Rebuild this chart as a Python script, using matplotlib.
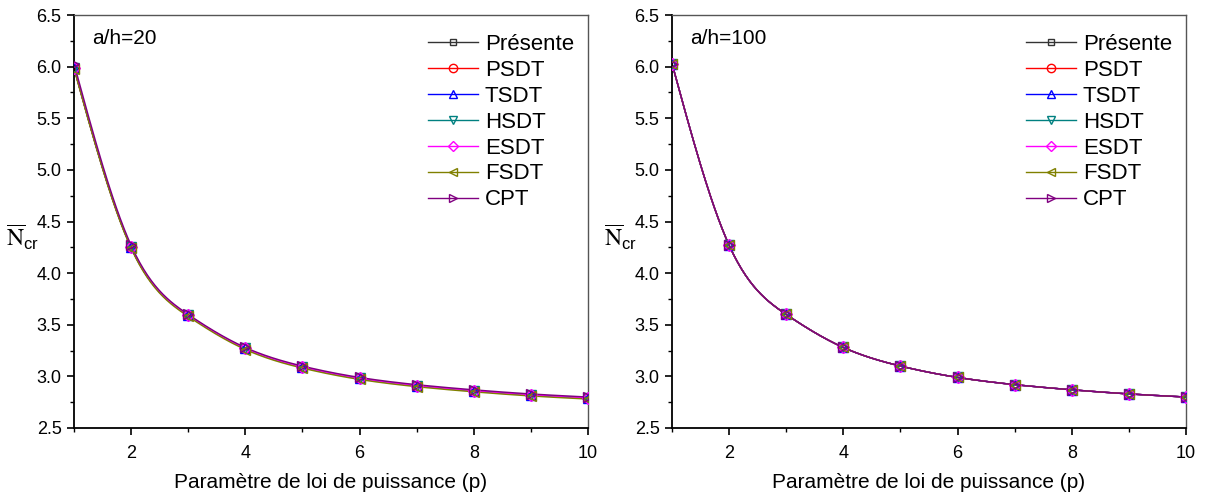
import numpy as np
import matplotlib
matplotlib.use("Agg")
import matplotlib.pyplot as plt
from matplotlib.ticker import MultipleLocator, FormatStrFormatter

plt.rcParams['font.family'] = ['Liberation Sans', 'DejaVu Sans']
plt.rcParams['mathtext.fontset'] = 'stix'

p = [1, 2, 3, 4, 5, 6, 7, 8, 9, 10]
series_names = ["Présente", "PSDT", "TSDT", "HSDT", "ESDT", "FSDT", "CPT"]
# a/h = 20
ah20 = {
    "Présente": [5.99, 4.25, 3.59, 3.27, 3.09, 2.98, 2.91, 2.86, 2.82, 2.79],
    "PSDT":     [5.99, 4.25, 3.59, 3.27, 3.09, 2.98, 2.91, 2.86, 2.82, 2.79],
    "TSDT":     [5.99, 4.25, 3.59, 3.27, 3.09, 2.98, 2.91, 2.86, 2.82, 2.79],
    "HSDT":     [5.99, 4.25, 3.59, 3.27, 3.09, 2.98, 2.91, 2.86, 2.82, 2.79],
    "ESDT":     [5.99, 4.25, 3.59, 3.27, 3.09, 2.98, 2.91, 2.86, 2.82, 2.79],
    "FSDT":     [5.98, 4.24, 3.58, 3.26, 3.08, 2.97, 2.90, 2.85, 2.81, 2.78],
    "CPT":      [6.03, 4.27, 3.60, 3.28, 3.10, 2.99, 2.92, 2.87, 2.83, 2.80],
}
# a/h = 100
ah100 = {
    "Présente": [6.03, 4.27, 3.60, 3.28, 3.10, 2.99, 2.92, 2.87, 2.83, 2.80],
    "PSDT":     [6.03, 4.27, 3.60, 3.28, 3.10, 2.99, 2.92, 2.87, 2.83, 2.80],
    "TSDT":     [6.03, 4.27, 3.60, 3.28, 3.10, 2.99, 2.92, 2.87, 2.83, 2.80],
    "HSDT":     [6.03, 4.27, 3.60, 3.28, 3.10, 2.99, 2.92, 2.87, 2.83, 2.80],
    "ESDT":     [6.03, 4.27, 3.60, 3.28, 3.10, 2.99, 2.92, 2.87, 2.83, 2.80],
    "FSDT":     [6.03, 4.27, 3.60, 3.28, 3.10, 2.99, 2.92, 2.87, 2.83, 2.80],
    "CPT":      [6.03, 4.27, 3.60, 3.28, 3.10, 2.99, 2.92, 2.87, 2.83, 2.80],
}
panel_labels = ["a/h=20", "a/h=100"]

colors = {"Présente": "#333333", "PSDT": "#ff0000", "TSDT": "#0000ff",
          "HSDT": "#008080", "ESDT": "#ff00ff", "FSDT": "#808000", "CPT": "#800080"}
markers = {"Présente": "s", "PSDT": "o", "TSDT": "^", "HSDT": "v",
           "ESDT": "D", "FSDT": "<", "CPT": ">"}
msize = {"Présente": 6, "PSDT": 7, "TSDT": 7, "HSDT": 7, "ESDT": 6, "FSDT": 7, "CPT": 7}


def natural_spline(x, y, n=400):
    x = np.asarray(x, float); y = np.asarray(y, float)
    k = len(x); h = np.diff(x)
    A = np.zeros((k, k)); b = np.zeros(k)
    A[0, 0] = A[-1, -1] = 1
    for i in range(1, k - 1):
        A[i, i - 1] = h[i - 1]; A[i, i] = 2 * (h[i - 1] + h[i]); A[i, i + 1] = h[i]
        b[i] = 3 * ((y[i + 1] - y[i]) / h[i] - (y[i] - y[i - 1]) / h[i - 1])
    c = np.linalg.solve(A, b)
    xs = np.linspace(x[0], x[-1], n)
    idx = np.clip(np.searchsorted(x, xs) - 1, 0, k - 2)
    dx = xs - x[idx]
    bb = (y[1:] - y[:-1]) / h - h * (2 * c[:-1] + c[1:]) / 3
    d = (c[1:] - c[:-1]) / (3 * h)
    ys = y[idx] + bb[idx] * dx + c[idx] * dx ** 2 + d[idx] * dx ** 3
    return xs, ys


fig = plt.figure(figsize=(12.05, 4.97), dpi=100)
lefts = [74 / 1205, 672 / 1205]
w = 514 / 1205
bottom = (497 - 428) / 497
hgt = (428 - 15) / 497

for k, data in enumerate([ah20, ah100]):
    ax = fig.add_axes([lefts[k], bottom, w, hgt])
    for name in series_names:
        xs, ys = natural_spline(p, data[name])
        c = colors[name]
        ax.plot(xs, ys, color=c, lw=1.0, zorder=2)
        ax.plot(p, data[name], linestyle='none', marker=markers[name], ms=msize[name],
                mfc='none', mec=c, mew=1.0, zorder=3)
        ax.plot([], [], color=c, lw=1.0, marker=markers[name], ms=msize[name] - 1,
                mfc='none', mec=c, mew=1.0, label=name)
    ax.set_xlim(1, 10)
    ax.set_ylim(2.5, 6.5)
    ax.xaxis.set_major_locator(MultipleLocator(2))
    ax.xaxis.set_minor_locator(MultipleLocator(1))
    ax.yaxis.set_major_locator(MultipleLocator(0.5))
    ax.yaxis.set_minor_locator(MultipleLocator(0.25))
    ax.yaxis.set_major_formatter(FormatStrFormatter('%.1f'))
    ax.tick_params(which='major', direction='out', length=5, width=1.2, labelsize=13,
                   top=False, right=False, pad=4)
    ax.tick_params(axis='x', which='major', pad=7)
    ax.tick_params(which='minor', direction='out', length=3, width=1.0, top=False, right=False)
    for s in ['left', 'bottom']:
        ax.spines[s].set_linewidth(1.3)
        ax.spines[s].set_color('black')
    for s in ['top', 'right']:
        ax.spines[s].set_linewidth(1.0)
        ax.spines[s].set_color('#555555')
    ax.set_xlabel("Paramètre de loi de puissance (p)", fontsize=15, labelpad=8)
    ax.set_ylabel(r'$\overline{\mathrm{N}}_{\mathregular{cr}}$', fontsize=17, rotation=0)
    ax.yaxis.set_label_coords(-0.1, 0.425)
    ax.text(0.035, 0.944, panel_labels[k], transform=ax.transAxes, fontsize=15,
            ha='left', va='center')
    leg = ax.legend(loc='upper left', bbox_to_anchor=((428 - 74) / 514, 1 - 19 / 413),
                    frameon=False, fontsize=16, handlelength=2.25,
                    handletextpad=0.3, labelspacing=0.22, borderpad=0, borderaxespad=0)

fig.savefig("out.png", dpi=100)
